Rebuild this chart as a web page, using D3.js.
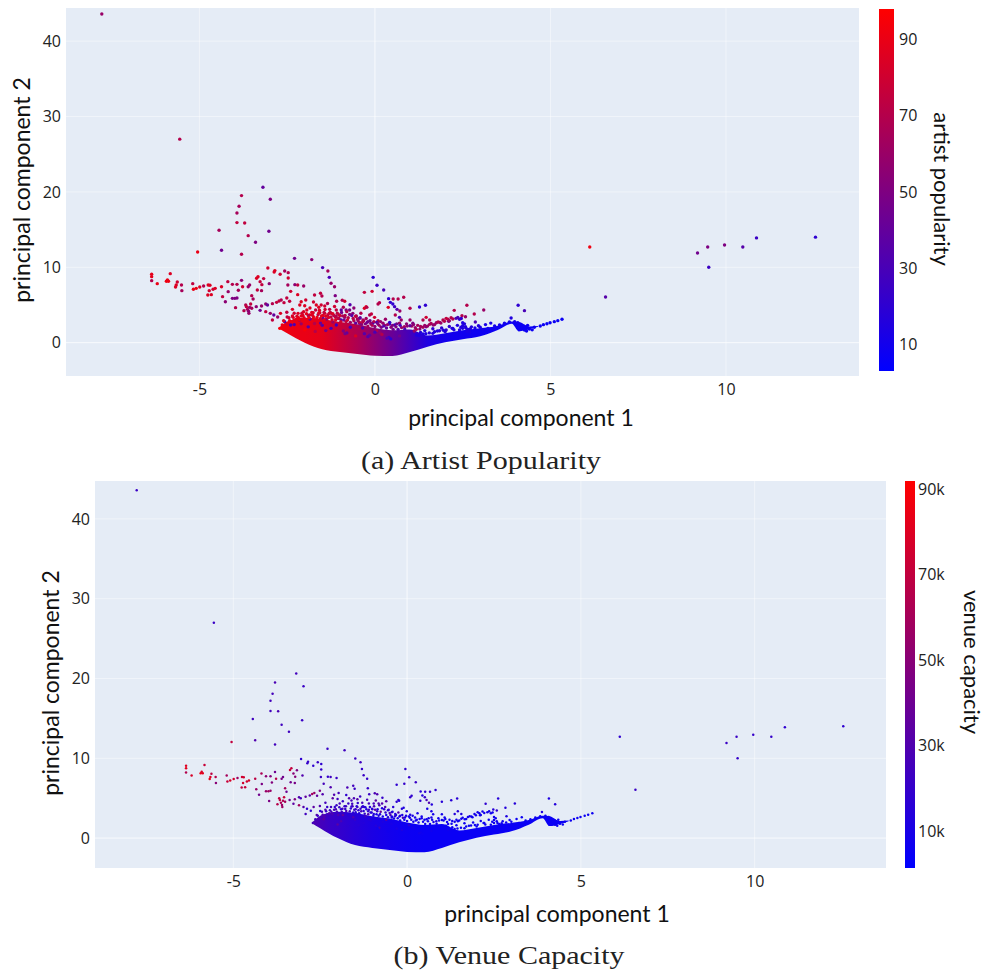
<!DOCTYPE html>
<html>
<head>
<meta charset="utf-8">
<script src="https://cdnjs.cloudflare.com/ajax/libs/d3/7.8.5/d3.min.js"></script>
<style>
  html, body { margin: 0; background: #fff; }
</style>
</head>
<body>
<div id="chart"></div>
<script>
// point values, both panels share the same pc1/pc2 positions
const pc1 = [
  -7.78,-5.56,6.12,6.57,9.19,9.48,9.51,9.96,10.48,10.87,12.55,
  -3.19,-3.80,-2.98,-3.87,-3.93,-3.93,-3.71,-4.44,-3.61,-3.02,-3.40,-4.37,-3.80,-5.05,-2.29,
  -3.05,-2.85,-2.87,-2.70,-2.57,-2.47,-2.47,-5.83,-6.36,-6.36,-6.36,-6.20,-5.94,-5.88,-5.91,
  -5.63,-5.66,-5.68,-5.51,-5.50,-5.19,-5.17,-5.09,-4.99,-4.88,-4.75,-4.70,-4.76,-4.66,-4.72,-4.61,-4.55,
  -4.37,-4.19,-4.18,-4.06,-3.93,-3.80,-3.77,-3.89,-3.61,-3.57,-3.33,-3.37,-3.27,-3.17,-3.22,-3.01,-3.35,-3.23,
  -4.34,-4.26,-4.06,-3.99,-3.93,-3.97,-3.51,-3.47,-3.68,-3.54,-3.73,-3.63,-3.59,-3.51,-3.57,-3.66,-3.60,
  -3.38,-3.27,-3.23,-3.11,-3.06,-3.11,-2.92,-2.80,-2.73,-2.67,-2.51,-2.59,-2.43,-2.40,-2.48,-2.28,-2.20,-2.20,
  -2.98,-2.88,-2.69,-2.92,-2.77,-2.35,-2.51,
  -2.03,-1.72,-1.55,-1.51,-1.80,-1.49,-1.34,-1.30,-1.25,-1.15,-1.13,-1.09,-0.93,-0.86,-0.71,
  -0.05,0.06,0.25,-0.30,-0.08,0.39,0.52,0.66,0.82,0.44,0.51,0.56,0.63,0.71,0.38,0.09,0.13,-0.25,-0.30,-0.23,
  1.00,1.27,1.44,2.62,2.26,3.10,2.83,2.48,2.58,4.08,4.26,3.88,2.86,1.46,1.56,1.37,
  -0.96,-0.82,-0.72,-0.63,-0.53,-0.44,-1.67,-1.53,-1.43,-1.29,-1.10,-1.97,-2.10,-2.14,
  -2.71,-2.64,-2.57,-2.50,-2.43,-2.33,-2.24,-2.19,-2.10,-2.03,-1.94,-1.86,-1.76,-1.69,-1.57,-1.48,-1.43,-1.34,-1.24,-1.12,
  -1.01,-0.96,-0.86,-0.80,-0.44,-0.34,-0.20,-0.06,0.09,0.23,0.42,0.56,0.70,0.84,1.08,-0.15,-0.01,0.42,0.58,0.70,
  1.18,1.37,1.56,1.75,1.94,2.03,2.17,2.31,2.41,2.50,2.58,2.65,1.12,1.28,1.46,1.66,1.85,2.10,
  1.18,1.37,1.65,1.84,2.03,2.22,2.41,
  3.07,3.22,3.41,3.55,3.69,3.83,3.98,4.07,4.19,4.26,4.40,4.54,4.71,4.80,4.90,4.99,5.11,5.21,5.33,
  -2.30,-2.00,-1.72,-1.40,-1.05,-0.80,-0.45,-0.15,0.15,0.40,-2.15,-1.85,-1.50,-1.20,-0.90,-0.60,-0.30,0.05,0.35,0.70,
  // upper arc
  1.05,1.15,1.22,1.30,1.42,1.50,1.60,1.70,1.80,1.88,1.98,2.08,2.12,2.22,2.36,2.46,2.55,2.60,2.62,2.70,2.50,
  // rough top of the cloud
  -2.60,-2.45,-2.38,-2.30,-2.22,-2.15,-2.08,-2.02,-1.98,-1.90,
  -1.85,-1.80,-1.75,-1.70,-1.62,-1.58,-1.55,-1.48,-1.42,-1.38,
  -1.32,-1.27,-1.22,-1.17,-1.12,-1.07,-1.02,-0.97,-0.92,-0.88,
  -0.82,-0.76,-0.70,-0.66,-0.60,-0.55,-0.50,-0.44,-0.38,-0.32,
  -0.27,-0.20,-0.14,-0.08,0.00,0.05,0.12,0.18,0.28,0.33,
  0.46,0.52,0.60,0.66,0.76,0.85,0.92,
  // looser dots above that
  -2.00,-1.85,-1.60,-2.30,-2.50,-1.35,-1.75,-0.60,-0.40,-0.10,0.30,0.75,1.00,-0.90,-1.15,-1.45,
  // right band fringe and the knot before the tail
  1.25,1.45,1.70,1.95,2.20,2.45,2.75,2.95,3.15,3.30,
  4.10,4.15,4.25,4.32,4.48,4.35,
  // second pass over the top of the cloud
  -2.35,-2.18,-2.05,-1.95,-1.88,-1.78,-1.65,-1.60,-1.52,-1.45,
  -1.40,-1.30,-1.25,-1.20,-1.10,-1.05,-1.00,-0.95,-0.85,-0.78,
  -0.72,-0.62,-0.55,-0.48,-0.42,-0.35,-0.25,-0.22,-0.12,-0.03,
  0.08,0.16,0.25,0.36,0.50,0.62,0.72,0.90,1.00,1.10,
  // off colour dots showing through the packed part
  -2.40,-2.10,-1.90,-1.70,-1.55,-1.25,-1.10,-0.85,-0.70,-0.55,-0.35,-0.20,0.00,0.20,0.45,
  // blue dots between the arc and the band
  1.30,1.42,1.55,1.65,1.78,1.90,2.00,2.12,2.25,2.35,2.50,2.72,2.85,3.00
];
const pc2 = [
  43.6,27.0,12.69,6.06,11.9,12.7,10.0,12.96,12.7,13.9,14.0,
  20.62,19.51,19.03,18.10,17.21,15.93,15.88,14.91,14.20,14.78,13.32,12.26,11.73,12.04,11.19,
  9.91,9.56,9.38,9.07,9.51,9.29,8.58,9.16,9.07,8.76,8.23,7.83,8.14,8.14,8.32,
  8.05,7.65,7.39,7.65,6.90,7.83,7.08,7.21,7.39,7.52,7.65,7.61,6.33,6.37,6.90,7.08,7.21,
  7.43,8.10,6.77,7.74,7.74,8.27,7.43,6.95,7.43,7.65,8.76,8.54,8.10,8.50,7.70,7.83,6.99,6.90,
  6.11,5.44,5.88,5.88,5.93,4.65,6.24,5.80,5.00,5.13,4.25,4.42,3.89,4.56,4.69,4.78,4.16,
  4.78,4.29,4.87,5.13,5.00,4.12,5.18,5.35,5.53,5.66,5.93,5.31,5.49,6.81,7.65,7.70,7.65,6.37,
  3.89,3.67,3.89,3.01,3.41,4.42,4.03,
  7.52,6.33,6.55,6.19,11.02,9.96,9.51,8.67,7.88,7.43,6.24,5.49,5.62,5.49,5.04,
  8.67,7.61,6.99,6.68,6.81,5.84,5.80,5.80,6.02,5.35,5.13,4.78,4.42,4.20,4.69,5.13,5.31,4.78,4.56,4.69,
  4.56,4.73,4.96,4.96,4.29,4.34,3.81,3.58,3.45,4.96,4.25,3.27,2.74,3.36,3.01,3.01,
  4.34,4.34,4.34,3.89,3.54,3.23,5.00,5.00,4.87,4.42,4.34,5.66,5.44,5.00,
  1.90,2.35,2.79,2.43,2.92,3.36,3.10,3.89,3.54,4.12,4.34,3.67,3.98,4.34,3.98,3.23,3.89,3.67,3.89,3.36,
  3.67,3.01,3.36,4.12,2.57,3.01,2.79,2.57,2.92,2.57,2.48,2.35,2.57,2.12,2.57,3.67,3.36,2.70,3.67,3.36,
  1.77,2.04,2.43,2.65,3.01,3.23,3.32,3.23,3.10,2.65,2.12,1.77,1.55,1.80,2.12,2.35,2.70,2.85,
  1.02,1.15,1.24,1.59,1.68,1.90,1.68,
  1.77,1.90,2.21,2.35,2.57,2.74,2.79,2.65,2.12,1.68,1.81,2.04,2.21,2.39,2.52,2.65,2.79,2.92,3.10,
  2.40,1.70,2.55,1.60,2.20,1.30,1.80,1.00,1.30,0.70,3.00,2.90,2.30,2.75,1.55,2.30,1.20,1.60,0.60,0.90,
  2.20,2.00,2.30,2.15,2.30,2.20,2.55,2.40,2.75,2.60,2.85,3.10,2.90,3.15,3.35,3.20,2.50,1.90,1.50,1.40,1.90,
  2.90,3.30,2.70,3.00,3.50,3.05,3.90,3.30,2.90,3.60,
  3.15,4.00,3.40,3.00,3.70,4.30,3.20,3.60,4.40,3.10,
  3.35,4.00,3.05,3.60,3.00,3.90,3.20,2.80,3.55,3.00,
  2.80,3.30,2.70,3.60,2.90,2.60,3.15,2.70,2.45,2.90,
  2.50,2.20,2.90,2.30,2.15,2.70,2.30,2.05,2.30,1.95,
  2.05,1.75,2.10,1.75,2.00,1.80,2.20,
  4.90,4.60,4.70,3.90,3.40,5.20,5.40,4.60,3.90,3.80,3.10,3.00,3.00,4.70,4.80,3.00,
  0.95,1.20,1.45,1.65,1.90,2.05,2.10,2.25,2.40,2.60,
  2.30,1.80,2.20,1.55,1.70,2.30,
  3.55,3.30,3.60,3.85,3.30,3.65,3.35,3.95,3.55,4.00,
  3.50,3.90,3.40,3.85,3.55,3.20,3.60,4.00,3.60,3.00,
  3.75,3.20,3.50,2.90,3.30,2.75,3.20,2.70,2.55,2.80,
  2.55,2.80,2.20,2.40,2.30,2.50,2.30,2.50,2.25,2.40,
  2.35,2.50,2.10,1.50,2.60,1.90,2.35,1.20,2.05,0.90,1.95,0.80,1.40,1.10,0.50,
  1.35,1.60,1.30,1.85,1.55,1.95,1.45,2.15,1.70,2.30,2.25,1.85,1.95,2.05
];
const popularity = [
  60,70,92,35,45,50,25,50,35,25,20,
  40,70,50,65,65,75,75,65,70,45,50,45,70,90,45,
  80,85,85,80,65,70,80,85,88,88,70,90,92,92,90,
  80,85,85,70,65,75,90,90,85,70,85,85,85,85,80,80,85,
  85,75,60,70,70,55,80,65,60,60,85,85,75,75,75,55,75,65,
  75,55,50,50,50,70,70,65,70,75,70,65,60,65,60,75,55,
  55,45,60,55,40,75,70,75,75,70,75,75,75,80,65,55,75,85,
  60,40,85,75,60,85,75,
  60,75,75,70,55,30,65,30,60,60,50,70,70,80,35,
  20,25,30,75,80,20,70,70,70,20,20,25,35,60,85,70,70,85,85,70,
  70,20,20,70,70,60,70,70,60,20,30,15,30,80,70,70,
  40,50,50,55,60,65,85,80,80,75,75,80,85,85,
  95,90,30,85,90,85,90,85,90,85,85,90,85,75,80,30,85,75,70,75,
  70,30,60,70,40,60,50,30,70,60,25,25,60,65,50,70,80,20,70,30,
  70,65,65,60,70,75,70,30,20,15,15,15,60,55,50,55,60,45,
  15,15,15,20,20,15,15,
  10,10,10,10,10,10,10,10,8,8,8,8,7,7,7,7,7,7,7,
  30,95,70,45,80,40,70,40,60,25,40,92,35,60,50,75,35,70,30,45,
  65,60,65,65,60,60,65,60,70,60,70,75,60,70,30,20,15,15,12,12,15,
  85,80,92,88,85,90,80,88,92,70,
  35,85,90,88,75,85,80,85,80,60,
  85,75,80,70,85,75,50,80,65,45,
  75,70,60,35,70,40,65,75,55,70,
  50,65,45,70,55,30,65,50,60,40,
  55,45,50,35,60,30,55,
  85,85,85,80,75,70,80,55,70,75,60,60,60,70,80,90,
  15,15,15,15,15,15,15,15,12,12,
  8,8,8,8,8,8,
  85,90,85,88,90,85,90,85,88,75,
  85,80,75,85,70,75,80,45,70,80,
  50,70,75,60,40,70,65,45,60,70,
  50,60,35,60,50,45,30,55,40,55,
  30,60,35,70,40,30,25,45,30,85,35,35,30,70,20,
  15,15,18,20,15,20,15,20,15,15,15,15,12,12
];
const capacity = [
  22,22,18,22,22,22,20,20,20,18,18,
  25,28,22,26,25,24,28,24,24,22,24,30,25,70,22,
  18,20,20,18,22,18,20,72,80,82,65,78,84,82,78,
  68,80,84,66,50,60,72,78,76,58,74,76,70,72,76,76,78,
  68,62,45,52,48,40,66,48,44,42,70,72,50,46,50,30,42,44,
  55,42,55,58,55,45,60,40,68,72,66,62,58,60,64,70,56,
  42,34,46,30,24,58,36,32,60,55,45,36,30,26,22,20,24,30,
  30,18,34,24,18,26,30,
  22,28,25,22,24,22,24,20,22,20,20,22,28,30,20,
  18,20,22,18,20,15,18,20,18,14,20,28,30,14,18,20,18,20,18,16,
  15,15,16,15,18,15,14,16,18,12,14,12,12,15,12,14,
  26,30,32,30,24,20,30,28,30,26,24,26,30,34,
  26,24,18,28,30,20,32,24,28,22,26,30,24,22,30,16,26,22,20,18,
  24,14,20,26,12,14,16,10,12,10,9,8,10,12,8,14,12,8,10,10,
  8,8,8,9,8,8,8,8,7,7,7,7,6,6,6,6,6,6,
  7,7,7,7,7,7,7,
  6,6,6,6,6,6,6,6,6,6,6,6,6,6,6,6,6,6,6,
  22,34,18,16,14,22,10,12,9,7,26,36,20,24,14,30,11,16,8,7,
  7,7,7,7,7,7,8,7,8,7,9,8,7,8,9,7,7,6,6,6,7,
  30,26,32,24,22,28,18,26,30,16,
  22,20,28,14,18,24,16,22,18,14,
  26,16,20,14,30,14,18,12,34,10,
  12,36,10,18,9,12,24,8,10,14,
  8,10,12,7,9,7,8,7,8,7,
  7,6,8,7,8,6,7,
  24,20,26,20,16,22,18,30,16,12,9,8,8,34,26,14,
  6,6,6,6,6,6,6,6,6,6,
  6,6,6,6,6,6,
  30,26,28,22,24,20,24,18,22,16,
  20,18,16,14,22,14,16,28,14,12,
  12,18,14,26,12,16,30,10,24,12,
  9,10,8,8,7,8,7,7,7,7,
  34,22,28,18,30,14,16,8,12,8,8,7,6,7,6,
  6,6,6,6,6,6,6,6,6,6,6,6,6,6
];

// the packed middle of the cloud, too dense to pick single points out of
const corePc1 = [-2.75,-2.5,-2.25,-2,-1.5,-1,-0.5,0,0.5,1,1.5,2,2.5,3,3.5,3.9,4.1,4.4,4.65];
const coreLow = [1.9,1.24,0.58,0,-0.88,-1.24,-1.5,-1.73,-1.77,-1.24,-0.53,0.05,0.45,0.85,1.68,2.5,1.5,1.77,2.1];
const coreHigh = [1.9,2.8,3.15,3.3,3.15,2.75,2.45,1.95,1.65,1.75,0.95,1.25,1.65,1.9,2.25,2.8,2.75,2.15,2.2];
const corePopularity = [92,92,90,90,88,78,68,55,42,28,14,10,9,8,8,7,7,6,6];
const coreCapacity = [30,26,22,20,15,11,8,6,5,5,5,5,5,5,5,5,5,5,5];

const xTicks = [-5, 0, 5, 10];
const yTicks = [0, 10, 20, 30, 40];
const popTicks = [10, 30, 50, 70, 90];
const capTicks = [10, 30, 50, 70, 90];

const width = 986, height = 974;
const svg = d3.select("#chart").append("svg")
  .attr("width", width)
  .attr("height", height)
  .style("display", "block");
const defs = svg.append("defs");

const tickFont = "'Open Sans', sans-serif";
const titleFont = "Lato, 'Open Sans', sans-serif";
const rows = d3.range(pc1.length);

function drawPanel(p) {
  const x = d3.scaleLinear().domain(p.xDomain).range([p.left, p.right]);
  const y = d3.scaleLinear().domain(p.yDomain).range([p.bottom, p.top]);
  const color = d3.scaleLinear().domain(p.colorDomain).range(["#0000ff", "#ff0000"]);
  const g = svg.append("g");

  g.append("rect")
    .attr("x", p.left).attr("y", p.top)
    .attr("width", p.right - p.left).attr("height", p.bottom - p.top)
    .attr("fill", "#e5ecf6");

  // grid, faint in the reference
  g.append("g").selectAll("line").data(xTicks).join("line")
    .attr("x1", d => x(d)).attr("x2", d => x(d))
    .attr("y1", p.top).attr("y2", p.bottom)
    .attr("stroke", "#fff").attr("stroke-opacity", d => d === 0 ? 0.75 : 0.45).attr("stroke-width", 1);
  g.append("g").selectAll("line").data(yTicks).join("line")
    .attr("y1", d => y(d)).attr("y2", d => y(d))
    .attr("x1", p.left).attr("x2", p.right)
    .attr("stroke", "#fff").attr("stroke-opacity", d => d === 0 ? 0.75 : 0.45).attr("stroke-width", 1);

  // axes, only the labels show
  const xAxis = g.append("g")
    .attr("transform", `translate(0,${p.bottom})`)
    .call(d3.axisBottom(x).tickValues(xTicks).tickSize(0).tickPadding(8).tickFormat(d => String(d)));
  const yAxis = g.append("g")
    .attr("transform", `translate(${p.left},0)`)
    .call(d3.axisLeft(y).tickValues(yTicks).tickSize(0).tickPadding(5).tickFormat(d => String(d)));
  [xAxis, yAxis].forEach(a => {
    a.select(".domain").remove();
    a.selectAll("text").attr("font-family", tickFont).attr("font-size", p.tickSize).attr("fill", "#222");
  });

  // dense core
  const gradId = "core-" + p.id;
  defs.append("linearGradient").attr("id", gradId)
    .attr("gradientUnits", "userSpaceOnUse")
    .attr("x1", x(corePc1[0])).attr("x2", x(corePc1[corePc1.length - 1]))
    .attr("y1", 0).attr("y2", 0)
    .selectAll("stop").data(corePc1).join("stop")
    .attr("offset", d => (d - corePc1[0]) / (corePc1[corePc1.length - 1] - corePc1[0]))
    .attr("stop-color", (d, i) => color(p.core[i]));
  const core = d3.area()
    .x((d, i) => x(corePc1[i]))
    .y0((d, i) => y(coreLow[i]))
    .y1((d, i) => y(coreHigh[i]))
    .curve(d3.curveMonotoneX);
  g.append("path").datum(corePc1).attr("d", core).attr("fill", `url(#${gradId})`);

  g.append("g").selectAll("circle").data(rows).join("circle")
    .attr("cx", i => x(pc1[i]))
    .attr("cy", i => y(pc2[i]))
    .attr("r", p.radius)
    .attr("fill", i => color(p.values[i]));

  // colorbar
  const barId = "bar-" + p.id;
  defs.append("linearGradient").attr("id", barId)
    .attr("x1", 0).attr("x2", 0).attr("y1", 1).attr("y2", 0)
    .selectAll("stop").data([0, 1]).join("stop")
    .attr("offset", d => d)
    .attr("stop-color", d => d ? "#ff0000" : "#0000ff");
  const bar = d3.scaleLinear().domain(p.colorDomain).range([p.barBottom, p.barTop]);
  g.append("rect")
    .attr("x", p.barLeft).attr("y", p.barTop)
    .attr("width", p.barWidth).attr("height", p.barBottom - p.barTop)
    .attr("fill", `url(#${barId})`);
  const barAxis = g.append("g")
    .attr("transform", `translate(${p.barLeft + p.barWidth},0)`)
    .call(d3.axisRight(bar).tickValues(p.barTicks).tickSize(0).tickPadding(p.barPad).tickFormat(p.barFormat));
  barAxis.select(".domain").remove();
  barAxis.selectAll("text").attr("font-family", tickFont).attr("font-size", p.tickSize).attr("fill", "#222");

  // titles
  g.append("text").attr("x", p.xTitle[0]).attr("y", p.xTitle[1])
    .attr("text-anchor", "middle").attr("font-family", titleFont)
    .attr("font-size", 23).attr("fill", "#111").text("principal component 1");
  g.append("text").attr("transform", `translate(${p.yTitle[0]},${p.yTitle[1]}) rotate(-90)`)
    .attr("text-anchor", "middle").attr("font-family", titleFont)
    .attr("font-size", 23).attr("fill", "#111").text("principal component 2");
  g.append("text").attr("transform", `translate(${p.barTitle[0]},${p.barTitle[1]}) rotate(90)`)
    .attr("text-anchor", "middle").attr("font-family", titleFont)
    .attr("font-size", 22).attr("fill", "#111").text(p.barLabel);
  // caption is Computer Modern in the reference, wider than any serif here
  g.append("text").attr("transform", `translate(${p.caption[0]},${p.caption[1]}) scale(1.2,1)`)
    .attr("text-anchor", "middle").attr("font-family", "'Liberation Serif', serif")
    .attr("font-size", 25).attr("fill", "#222").text(p.captionText);
}

drawPanel({
  id: "a", left: 66, right: 859, top: 8, bottom: 376,
  xDomain: [-8.8, 13.79], yDomain: [-4.42, 44.4],
  colorDomain: [3, 98], values: popularity, core: corePopularity, radius: 1.7, tickSize: 16,
  barLeft: 879, barWidth: 15, barTop: 9, barBottom: 371, barTicks: popTicks, barPad: 5,
  barFormat: d => String(d), barLabel: "artist popularity",
  xTitle: [521, 426], yTitle: [30, 190], barTitle: [934, 189],
  caption: [481, 469], captionText: "(a) Artist Popularity"
});

drawPanel({
  id: "b", left: 95, right: 886, top: 481, bottom: 868,
  xDomain: [-8.98, 13.78], yDomain: [-3.75, 44.75],
  colorDomain: [1.3, 92], values: capacity, core: coreCapacity, radius: 1.25, tickSize: 16,
  barLeft: 905, barWidth: 10, barTop: 481, barBottom: 868, barTicks: capTicks, barPad: 3,
  barFormat: d => d + "k", barLabel: "venue capacity",
  xTitle: [557, 922], yTitle: [59, 683], barTitle: [964, 662],
  caption: [509, 964], captionText: "(b) Venue Capacity"
});
</script>
</body>
</html>
